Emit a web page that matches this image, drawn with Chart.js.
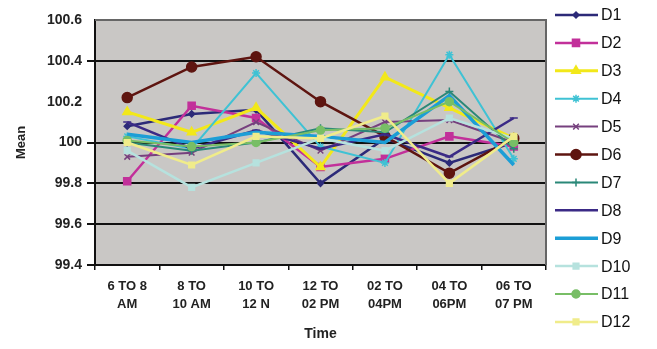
<!DOCTYPE html>
<html>
<head>
<meta charset="utf-8">
<script src="https://cdn.jsdelivr.net/npm/chart.js@4/dist/chart.umd.min.js"></script>
<style>
  html, body { margin: 0; padding: 0; background: #fff; }
  #wrap { width: 657px; height: 349px; }
</style>
</head>
<body>
<div id="wrap"><canvas id="meanChart" width="657" height="349"></canvas></div>
<script>
// time slots on the x axis
const timeSlots = [
  ["6 TO 8", "AM"], ["8 TO", "10 AM"], ["10 TO", "12 N"], ["12 TO", "02 PM"],
  ["02 TO", "04PM"], ["04 TO", "06PM"], ["06 TO", "07 PM"]
];
const seriesNames = ["D1", "D2", "D3", "D4", "D5", "D6", "D7", "D8", "D9", "D10", "D11", "D12"];

// mean values
const d1  = [100.08, 100.14, 100.16, 99.80, 100.02, 99.90, 100.00];
const d2  = [99.81, 100.18, 100.12, 99.88, 99.92, 100.03, 99.98];
const d3  = [100.15, 100.05, 100.17, 99.88, 100.32, 100.17, 100.02];
const d4  = [100.03, 99.97, 100.34, 99.98, 99.90, 100.43, 99.92];
const d5  = [99.93, 99.95, 100.10, 99.96, 100.10, 100.11, 100.00];
const d6  = [100.22, 100.37, 100.42, 100.20, 100.03, 99.85, 100.02];
const d7  = [100.00, 99.96, 100.00, 100.07, 100.05, 100.25, 99.97];
const d8  = [100.10, 99.97, 100.06, 99.97, 100.04, 99.93, 100.12];
const d9  = [100.04, 100.00, 100.05, 100.03, 100.00, 100.23, 99.89];
const d10 = [99.96, 99.78, 99.90, 100.02, 99.96, 100.12, 100.02];
const d11 = [100.01, 99.98, 100.00, 100.06, 100.07, 100.20, 100.00];
const d12 = [100.00, 99.89, 100.03, 100.02, 100.13, 99.80, 100.03];
const allValues = [d1, d2, d3, d4, d5, d6, d7, d8, d9, d10, d11, d12];

const yTicks = [99.4, 99.6, 99.8, 100, 100.2, 100.4, 100.6];

// look of each series
const colors = ["#2c2a78", "#c2309a", "#f2e81a", "#3fc2d4", "#76407e", "#5e1510",
                "#2a8878", "#3b2a86", "#1c9ed6", "#b6e2de", "#78be66", "#f0ec8a"];
const markers = ["rectRot", "rect", "triangle", "star", "crossRot", "circle",
                 "cross", "line", false, "rect", "circle", "rect"];
const markerSizes = [3, 5, 5, 4, 4, 5, 4, 4, 0, 4, 4, 4];
const lineWidths = [2.5, 2.5, 3, 2, 2, 2.5, 2, 2.5, 3.5, 2.5, 2, 2.5];

const datasets = seriesNames.map((name, i) => ({
  label: name,
  data: allValues[i],
  borderColor: colors[i],
  backgroundColor: colors[i],
  borderWidth: lineWidths[i],
  pointStyle: markers[i],
  pointRadius: markerSizes[i],
  pointBorderWidth: 1.5,
  tension: 0,
  order: seriesNames.length - i
}));

// grey plot background
const plotBg = {
  id: "plotBg",
  beforeDraw(chart) {
    const { ctx, chartArea: a } = chart;
    ctx.save();
    ctx.fillStyle = "#c9c7c5";
    ctx.fillRect(a.left, a.top, a.right - a.left, a.bottom - a.top);
    ctx.restore();
  },
  afterDatasetsDraw(chart) {
    const { ctx, chartArea: a } = chart;
    ctx.save();
    ctx.strokeStyle = "#666";
    ctx.lineWidth = 2;
    ctx.beginPath();
    ctx.moveTo(a.left, a.top);
    ctx.lineTo(a.right, a.top);
    ctx.lineTo(a.right, a.bottom);
    ctx.stroke();
    ctx.restore();
  }
};

// legend: line sample + marker, like the spreadsheet one
const sideLegend = {
  id: "sideLegend",
  afterDraw(chart) {
    const ctx = chart.ctx;
    ctx.save();
    chart.data.datasets.forEach((ds, i) => {
      const y = 15 + i * 27.9;
      ctx.strokeStyle = ds.borderColor;
      ctx.fillStyle = ds.backgroundColor;
      ctx.lineWidth = ds.borderWidth;
      ctx.beginPath();
      ctx.moveTo(555, y);
      ctx.lineTo(598, y);
      ctx.stroke();
      if (ds.pointStyle) {
        ctx.lineWidth = 1.5;
        Chart.helpers.drawPoint(ctx, {
          pointStyle: ds.pointStyle, radius: ds.pointRadius, rotation: 0, borderWidth: 1.5
        }, 576, y);
      }
      ctx.fillStyle = "#111";
      ctx.font = "16px 'Liberation Sans', Arial, sans-serif";
      ctx.textBaseline = "middle";
      ctx.fillText(ds.label, 601, y + 1);
    });
    ctx.restore();
  }
};

const fontFamily = "'Liberation Sans', Arial, sans-serif";

new Chart(document.getElementById("meanChart"), {
  type: "line",
  data: { labels: timeSlots, datasets },
  options: {
    responsive: false,
    animation: false,
    layout: { padding: { top: 20, right: 111, bottom: 0, left: 0 } },
    plugins: { legend: { display: false }, tooltip: { enabled: false } },
    scales: {
      x: {
        offset: true,
        afterFit(scale) { scale.height = 84; },
        grid: { drawOnChartArea: false, offset: true, tickLength: 5, color: "#111", lineWidth: 1.5 },
        border: { color: "#111", width: 2 },
        ticks: {
          color: "#222", padding: 8, maxRotation: 0, autoSkip: false,
          font: { family: fontFamily, size: 13, weight: "bold", lineHeight: 1.35 }
        },
        title: {
          display: true, text: "Time", color: "#222",
          font: { family: fontFamily, size: 14, weight: "bold" },
          padding: { top: 0, bottom: 6 }
        }
      },
      y: {
        min: yTicks[0],
        max: yTicks[yTicks.length - 1],
        afterFit(scale) { scale.width = 95; },
        afterBuildTicks(scale) { scale.ticks = yTicks.map(v => ({ value: v })); },
        grid: {
          tickLength: 8,
          lineWidth: 2,
          color: c => {
            const v = Math.round(c.tick.value * 10) / 10;
            if (v === 100.2 || v === 100.6) return "rgba(0,0,0,0)";
            return "#111";
          }
        },
        border: { color: "#111", width: 2 },
        ticks: {
          color: "#222", padding: 5,
          font: { family: fontFamily, size: 14, weight: "bold" },
          callback: v => String(Math.round(v * 10) / 10)
        },
        title: {
          display: true, text: "Mean", color: "#222",
          font: { family: fontFamily, size: 13, weight: "bold" },
          padding: { top: 14, bottom: 0 }
        }
      }
    }
  },
  plugins: [plotBg, sideLegend]
});
</script>
</body>
</html>
